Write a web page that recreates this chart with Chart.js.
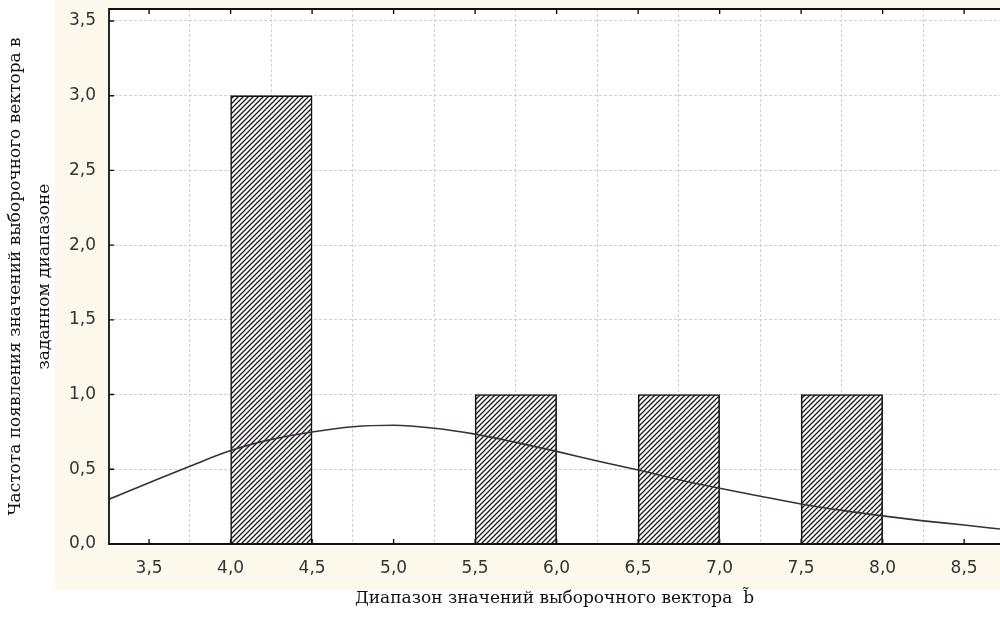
<!DOCTYPE html>
<html><head><meta charset="utf-8">
<script src="https://cdn.jsdelivr.net/npm/chart.js@4.4.0/dist/chart.umd.min.js"></script>
<style>html,body{margin:0;padding:0;background:#fff}#wrap{width:1000px;height:618px}</style>
</head><body><div id="wrap"><canvas id="c" width="1000" height="618"></canvas></div>
<script>
// Histogram bins (interval start / end) and frequencies
const binStarts = [4.0, 5.5, 6.5, 7.5];
const binEnds   = [4.5, 6.0, 7.0, 8.0];
const binCounts = [3, 1, 1, 1];
// Fitted curve
const curveX = [3.254, 3.5, 3.75, 4.0, 4.25, 4.5, 4.75, 5.0, 5.25, 5.5, 5.75, 6.0, 6.25, 6.5, 6.75, 7.0, 7.25, 7.5, 7.75, 8.0, 8.25, 8.5, 8.72];
const curveY = [0.30, 0.41, 0.52, 0.625, 0.70, 0.75, 0.785, 0.795, 0.775, 0.735, 0.68, 0.62, 0.555, 0.495, 0.43, 0.373, 0.32, 0.268, 0.225, 0.188, 0.155, 0.127, 0.10];
// Axes
const xMin = 3.254, xMax = 8.72, xStep = 0.5;
const yMin = 0, yMax = 3.58, yStep = 0.5;
const yTitle = ['Частота появления значений выборочного вектора в', 'заданном диапазоне'];
const xTitle = 'Диапазон значений выборочного вектора  b\u0303';

const fmt = v => v.toFixed(1).replace('.', ',');

function hatch() {
  const s = 5;
  const c = document.createElement('canvas');
  c.width = s; c.height = s;
  const g = c.getContext('2d');
  g.fillStyle = '#ffffff'; g.fillRect(0, 0, s, s);
  g.strokeStyle = '#1a1a1a'; g.lineWidth = 1.3;
  g.beginPath();
  g.moveTo(-1, s + 1); g.lineTo(s + 1, -1);
  g.moveTo(-1, 1); g.lineTo(1, -1);
  g.moveTo(s - 1, s + 1); g.lineTo(s + 1, s - 1);
  g.stroke();
  return document.getElementById('c').getContext('2d').createPattern(c, 'repeat');
}

const bgPlugin = {
  id: 'bg',
  beforeDraw(chart) {
    const {ctx, chartArea: a} = chart;
    ctx.save();
    ctx.fillStyle = '#ffffff'; ctx.fillRect(0, 0, chart.width, chart.height);
    ctx.fillStyle = '#fcf9ec'; ctx.fillRect(55, 0, chart.width - 55, 590);
    ctx.fillStyle = '#ffffff'; ctx.fillRect(a.left, a.top, a.right - a.left, a.bottom - a.top);
    ctx.restore();
  },
  afterDatasetsDraw(chart) {
    const {ctx, chartArea: a, scales} = chart;
    ctx.save();
    ctx.strokeStyle = '#111111'; ctx.lineWidth = 1.8;
    ctx.beginPath();
    ctx.moveTo(a.right + 2, a.top); ctx.lineTo(a.left, a.top); ctx.lineTo(a.left, a.bottom); ctx.lineTo(a.right + 2, a.bottom);
    ctx.stroke();
    ctx.lineWidth = 1.4;
    ctx.beginPath();
    scales.x.ticks.forEach(t => {
      const p = scales.x.getPixelForValue(t.value);
      ctx.moveTo(p, a.bottom); ctx.lineTo(p, a.bottom - 5);
      ctx.moveTo(p, a.top); ctx.lineTo(p, a.top + 5);
    });
    scales.y.ticks.forEach(t => {
      const p = scales.y.getPixelForValue(t.value);
      ctx.moveTo(a.left, p); ctx.lineTo(a.left + 5, p);
    });
    ctx.stroke();
    ctx.restore();
  }
};

const ctx = document.getElementById('c').getContext('2d');
new Chart(ctx, {
  type: 'bar',
  data: {
    datasets: [
      {
        type: 'line',
        data: curveX.map((x, i) => ({x, y: curveY[i]})),
        borderColor: '#3a2d3c',
        borderWidth: 1.6,
        pointRadius: 0,
        cubicInterpolationMode: 'monotone',
        order: 0
      },
      {
        type: 'bar',
        data: binStarts.map((s, i) => ({x: (s + binEnds[i]) / 2, y: binCounts[i]})),
        backgroundColor: hatch(),
        borderColor: '#111111',
        borderWidth: 1.6,
        barPercentage: 1,
        categoryPercentage: 1,
        order: 1
      }
    ]
  },
  options: {
    responsive: false,
    animation: false,
    layout: {padding: {top: 9, left: 0, right: 0, bottom: 0}},
    plugins: {legend: {display: false}, tooltip: {enabled: false}},
    scales: {
      x: {
        type: 'linear', min: xMin, max: xMax, offset: false,
        afterFit(s) { s.height = 74; s.paddingLeft = 0; s.paddingRight = 0; },
        grid: {color: '#d0d0d0', lineWidth: 1, drawTicks: false},
        border: {display: false, dash: [3, 2]},
        ticks: {stepSize: xStep, includeBounds: false, autoSkip: false, maxRotation: 0, padding: 14,
          color: '#333333', font: {family: 'DejaVu Sans', size: 17}, callback: v => fmt(v)},
        title: {display: true, text: xTitle, color: '#111111', padding: {top: 0, bottom: 8},
          font: {family: 'DejaVu Serif', size: 17, lineHeight: '22px'}}
      },
      y: {
        type: 'linear', min: yMin, max: yMax,
        afterFit(s) { s.width = 109; s.paddingTop = 0; s.paddingBottom = 0; },
        grid: {color: '#d0d0d0', lineWidth: 1, drawTicks: false},
        border: {display: false, dash: [3, 2]},
        ticks: {stepSize: yStep, includeBounds: false, padding: 13,
          color: '#333333', font: {family: 'DejaVu Sans', size: 17}, callback: v => fmt(v)},
        title: {display: true, text: yTitle, color: '#111111', padding: {top: 1, bottom: 0},
          font: {family: 'DejaVu Serif', size: 17, lineHeight: '29px'}}
      }
    }
  },
  plugins: [bgPlugin]
});
</script>
</body></html>
